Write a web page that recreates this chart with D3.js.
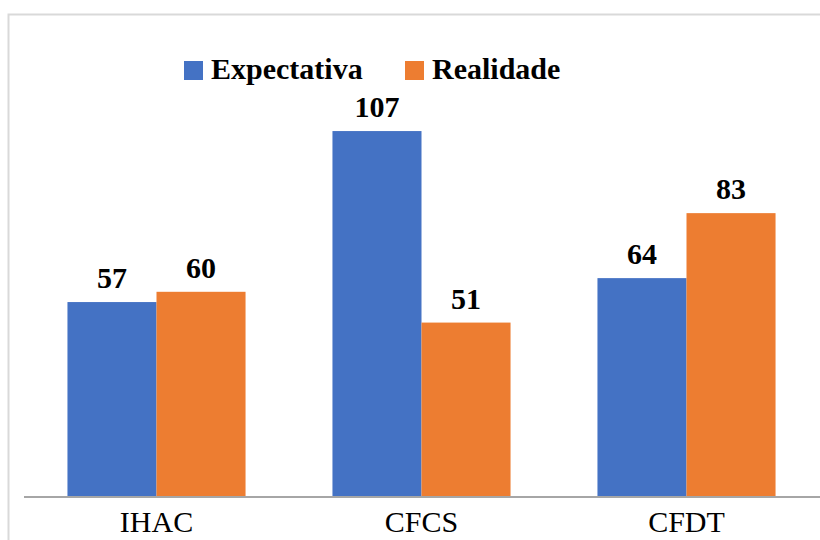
<!DOCTYPE html>
<html>
<head>
<meta charset="utf-8">
<script src="https://cdn.jsdelivr.net/npm/d3@7"></script>
<style>
  html, body { margin: 0; padding: 0; background: #fff; }
  svg { display: block; }
  svg text { font-family: "Liberation Serif", "Times New Roman", Times, "Nimbus Roman", "DejaVu Serif", serif; }
</style>
</head>
<body>
<svg id="chart" width="820" height="540"></svg>
<script>
const categories = ["IHAC", "CFCS", "CFDT"];
const seriesNames = ["Expectativa", "Realidade"];
const expectativa = [57, 107, 64];
const realidade = [60, 51, 83];
const colors = ["#4472C4", "#ED7D31"];

const svg = d3.select("#chart");

// chart border
svg.append("rect").attr("x", 8.5).attr("y", 14.5).attr("width", 830).attr("height", 560)
  .attr("fill", "none").attr("stroke", "#d9d9d9").attr("stroke-width", 2);

const left = 24, right = 819, baseline = 497;
const x0 = d3.scaleBand().domain(categories).range([left, right]).paddingInner(0.328).paddingOuter(0.164);
const x1 = d3.scaleBand().domain(seriesNames).range([0, x0.bandwidth()]);
const y = d3.scaleLinear().domain([0, 120]).range([baseline, baseline - 120 * 3.42]);

const data = categories.map((c, i) => ({cat: c, vals: [expectativa[i], realidade[i]]}));

const groups = svg.append("g").selectAll("g").data(data).join("g")
  .attr("transform", d => `translate(${x0(d.cat)},0)`);

groups.selectAll("rect").data(d => d.vals.map((v, j) => ({v, s: seriesNames[j], j})))
  .join("rect")
  .attr("x", d => x1(d.s))
  .attr("y", d => y(d.v))
  .attr("width", x1.bandwidth())
  .attr("height", d => y(0) - y(d.v))
  .attr("fill", d => colors[d.j]);

groups.selectAll("text").data(d => d.vals.map((v, j) => ({v, s: seriesNames[j], j})))
  .join("text")
  .attr("x", d => x1(d.s) + x1.bandwidth() / 2)
  .attr("y", d => y(d.v) - 14)
  .attr("text-anchor", "middle")
  .style("font-weight", "bold")
  .style("font-size", "30px")
  .attr("fill", "#000")
  .text(d => d.v);

// x axis
const xAxis = d3.axisBottom(x0).tickSize(0).tickPadding(0);
const ax = svg.append("g").attr("transform", `translate(0,${baseline})`).call(xAxis);
ax.attr("font-family", null);
ax.select(".domain").remove();
svg.append("line").attr("x1", left).attr("x2", 820).attr("y1", baseline).attr("y2", baseline)
  .attr("stroke", "#a6a6a6").attr("stroke-width", 2);
ax.selectAll(".tick text")
  .attr("y", 35)
  .attr("dy", 0)
  .style("font-size", "30px")
  .attr("fill", "#000");

// legend
const legend = svg.append("g");
const legendItems = [{name: seriesNames[0], x: 184}, {name: seriesNames[1], x: 405}];
legendItems.forEach((it, i) => {
  legend.append("rect").attr("x", it.x).attr("y", 61).attr("width", 19).attr("height", 19).attr("fill", colors[i]);
  legend.append("text").attr("x", it.x + 27).attr("y", 79)
    .style("font-weight", "bold").style("font-size", "30px")
    .attr("fill", "#000").text(it.name);
});
</script>
</body>
</html>
